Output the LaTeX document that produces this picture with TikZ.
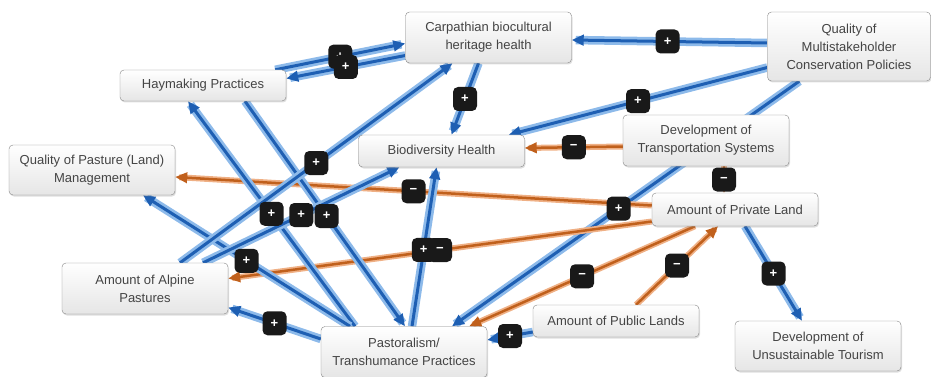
\documentclass[tikz,border=0pt]{standalone}
\usepackage{fontspec}
\setmainfont{Liberation Sans}
\usetikzlibrary{arrows.meta,shadows}
\pgfdeclarelayer{edges}
\pgfsetlayers{edges,main}
\definecolor{linkblue}{HTML}{1E5FB3}
\definecolor{haloblue}{HTML}{8DBAEA}
\definecolor{linkorange}{HTML}{C0601C}
\definecolor{haloorange}{HTML}{EFB085}
\definecolor{boxline}{HTML}{858585}
\definecolor{boxtext}{HTML}{444444}
\tikzset{
  factor/.style={draw=boxline, rounded corners=4pt, top color=white, bottom color=gray!20,
    minimum width=166pt, align=center, text=boxtext, inner sep=2pt,
    font=\fontsize{13}{18}\selectfont,
    drop shadow={opacity=0.25, shadow xshift=1pt, shadow yshift=-1.5pt}},
  pluslink/.style={draw=linkblue, line width=3pt, -{Triangle[length=12pt,width=10.5pt]},
    preaction={draw=haloblue, line width=8.5pt, arrows=-, shorten >=4pt}},
  minuslink/.style={draw=linkorange, line width=2.5pt, -{Triangle[length=12pt,width=10.5pt]},
    preaction={draw=haloorange, line width=6pt, arrows=-, shorten >=4pt}},
  sign/.style={fill=black!90, rounded corners=5pt, minimum width=24pt, minimum height=24pt,
    inner sep=0pt, text=white, font=\bfseries\fontsize{13}{13}\selectfont}
}
\begin{document}
\begin{tikzpicture}[x=1pt,y=-1pt]
\useasboundingbox (0,0) rectangle (931,377);

\node[factor, minimum height=51pt] (heritage) at (488.5,37.5) {Carpathian biocultural\\heritage health};
\node[factor, minimum height=69pt, minimum width=163pt] (policy) at (849,46.5) {Quality of\\Multistakeholder\\Conservation Policies};
\node[factor, minimum height=31pt] (hay) at (203,85.5) {Haymaking Practices};
\node[factor, minimum height=32pt] (biodiv) at (441.5,151) {Biodiversity Health};
\node[factor, minimum height=51pt] (transport) at (706,140.5) {Development of\\Transportation Systems};
\node[factor, minimum height=50pt] (pasture) at (92,170) {Quality of Pasture (Land)\\Management};
\node[factor, minimum height=33pt] (private) at (735,209.5) {Amount of Private Land};
\node[factor, minimum height=51pt] (alpine) at (145,288.5) {Amount of Alpine\\Pastures};
\node[factor, minimum height=51pt] (pastoral) at (404,352) {Pastoralism/\\Transhumance Practices};
\node[factor, minimum height=32pt] (public) at (616,321) {Amount of Public Lands};
\node[factor, minimum height=50pt] (tourism) at (818,346) {Development of\\Unsustainable Tourism};

\begin{pgfonlayer}{edges}
\draw[pluslink] ([yshift=3.5pt]policy.west) -- coordinate[pos=.51] (s1) ([yshift=-2.5pt]heritage.east);
\draw[pluslink] ([xshift=-11pt]hay.north east) -- coordinate[pos=.5] (s2) ([yshift=-6pt]heritage.west);
\draw[pluslink] ([yshift=-18pt]heritage.west) -- coordinate[pos=.5] (s3) ([yshift=7pt]hay.east);
\draw[pluslink] ([xshift=-10pt]heritage.south) -- coordinate[pos=.5] (s4) ([xshift=10pt]biodiv.north);
\draw[pluslink] ([yshift=-21pt]policy.west) -- coordinate[pos=.5] (s5) ([xshift=-16pt]biodiv.north east);
\draw[pluslink] ([xshift=32pt]policy.south west) -- coordinate[pos=.52] (s6) ([xshift=48pt]pastoral.north);
\draw[minuslink] ([yshift=-6pt]transport.west) -- coordinate[pos=.5] (s7) ([yshift=3pt]biodiv.east);
\draw[minuslink] ([xshift=18pt]transport.south) -- coordinate[pos=.5] (s8) ([xshift=-11pt]private.north);
\draw[minuslink] ([yshift=4pt]private.west) -- coordinate[pos=.5] (s9) ([yshift=-7pt]pasture.east);
\draw[minuslink] ([yshift=-12pt]private.west) -- coordinate[pos=.5] (s10) ([yshift=10pt]alpine.east);
\draw[minuslink] ([xshift=-40pt]private.south) -- coordinate[pos=.5] (s11) ([xshift=-18pt]pastoral.north east);
\draw[minuslink] ([xshift=20pt]public.north) -- coordinate[pos=.5] (s12) ([xshift=-17pt]private.south);
\draw[pluslink] ([xshift=10pt]private.south) -- coordinate[pos=.5] (s13) ([xshift=-16pt]tourism.north);
\draw[pluslink] ([yshift=-11pt]public.west) -- coordinate[pos=.5] (s14) ([yshift=12pt]pastoral.east);
\draw[pluslink] ([yshift=13pt]pastoral.west) -- coordinate[pos=.5] (s15) ([yshift=-19pt]alpine.east);
\draw[pluslink] ([xshift=-49pt]pastoral.north) -- coordinate[pos=.5] (s16) ([xshift=-15pt]hay.south);
\draw[pluslink] ([xshift=42pt]hay.south) -- coordinate[pos=.51] (s17) ([xshift=1pt]pastoral.north);
\draw[pluslink] ([xshift=-54pt]pastoral.north) -- coordinate[pos=.5] (s18) ([xshift=51pt]pasture.south);
\draw[pluslink] ([xshift=35pt]alpine.north) -- coordinate[pos=.5] (s19) ([xshift=-36pt]heritage.south);
\draw[pluslink] ([xshift=58pt]alpine.north) -- coordinate[pos=.5] (s20) ([xshift=-42pt]biodiv.south);
\draw[pluslink] ([xshift=8pt]pastoral.north) -- coordinate[pos=.48] (s21) ([xshift=-5pt]biodiv.south);
\end{pgfonlayer}

\foreach \c/\s in {s1/+, s2/+, s3/+, s4/+, s5/+, s6/+, s7/−, s8/−, s9/−, s21/+, s10/−, s11/−,
  s12/−, s13/+, s14/+, s15/+, s16/+, s17/+, s18/+, s19/+, s20/+}
  \node[sign] (badge-\c) at (\c) {\s};
\end{tikzpicture}
\end{document}
